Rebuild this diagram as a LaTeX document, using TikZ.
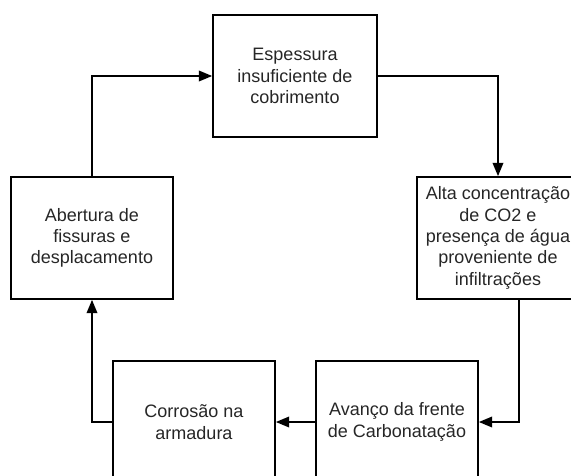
\documentclass[tikz,border=0pt]{standalone}
\usepackage{fontspec}
\setmainfont{Liberation Sans}
\usepackage{tikz}
\usetikzlibrary{arrows.meta}

\begin{document}
\begin{tikzpicture}[x=0.75pt,y=-0.75pt]
\tikzstyle{block} = [rectangle, draw=black, line width=1.3pt, minimum width=121.5pt, minimum height=91.5pt, align=center, font=\fontsize{13.5}{16}\selectfont, text=black!85]
\tikzstyle{link} = [draw=black, line width=1.2pt, -{Triangle[length=10pt,width=8pt]}]

\clip (0,0) rectangle (571,475);

\node[block, minimum width=123pt] (E) at (295,76) {Espessura\\insuficiente de\\cobrimento};
\node[block] (A) at (498,238) {Alta concentração\\de CO2 e\\presença de água\\proveniente de\\infiltrações};
\node[block] (V) at (397,422) {Avanço da frente\\de Carbonatação};
\node[block] (C) at (194,422) {Corrosão na\\armadura};
\node[block] (F) at (92,238) {Abertura de\\fissuras e\\desplacamento};

\draw[link] (E.east) -| (A.north);
\draw[link] ([xshift=15.75pt]A.south) |- (V.east);
\draw[link] (V.west) -- (C.east);
\draw[link] (C.west) -| (F.south);
\draw[link] (F.north) |- (E.west);
\end{tikzpicture}
\end{document}
